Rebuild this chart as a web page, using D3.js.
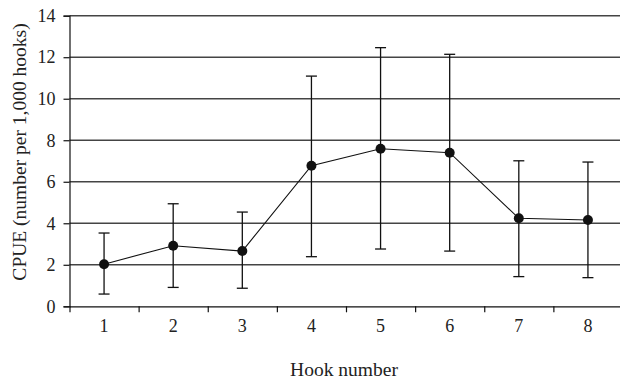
<!DOCTYPE html>
<html>
<head>
<meta charset="utf-8">
<script src="https://cdn.jsdelivr.net/npm/d3@7"></script>
<style>
    body { margin: 0; background: #fff; }
    svg text { font-family: "Liberation Serif", "Times New Roman", serif; fill: #222; }
</style>
</head>
<body>
<svg id="chart" width="620" height="380"></svg>
<script>
// CPUE by hook number, means with error bars
const hooks = [1, 2, 3, 4, 5, 6, 7, 8];
const cpue = [2.03, 2.92, 2.66, 6.77, 7.59, 7.40, 4.24, 4.16];
const lower = [0.59, 0.91, 0.87, 2.39, 2.76, 2.66, 1.43, 1.38];
const upper = [3.53, 4.94, 4.54, 11.09, 12.46, 12.14, 7.01, 6.95];
const yTicks = [0, 2, 4, 6, 8, 10, 12, 14];

const svg = d3.select("#chart");
const width = 620,
    height = 380;
const margin = {top: 15.7, right: -2.5, bottom: 73.7, left: 69.5};
const serif = '"Liberation Serif", "Times New Roman", serif';

const x = d3.scaleLinear()
    .domain([0.5, 8.5])
    .range([margin.left, width - margin.right]);

const y = d3.scaleLinear()
    .domain([0, 14])
    .range([height - margin.bottom, margin.top]);

const data = hooks.map((h, i) => ({hook: h, v: cpue[i], lo: lower[i], hi: upper[i]}));

// horizontal gridlines
svg.append("g")
    .attr("class", "grid")
    .selectAll("line")
    .data(yTicks.filter(t => t > 0))
    .enter().append("line")
    .attr("x1", margin.left)
    .attr("x2", width)
    .attr("y1", d => y(d))
    .attr("y2", d => y(d))
    .attr("stroke", "#444")
    .attr("stroke-width", 1.5);

// y axis
const yAxis = svg.append("g")
    .attr("transform", `translate(${margin.left},0)`)
    .call(d3.axisLeft(y).tickValues(yTicks).tickSize(6).tickPadding(8).tickFormat(d3.format("d")));
yAxis.attr("font-family", serif);
yAxis.select(".domain").attr("stroke", "#111").attr("stroke-width", 1.2);
yAxis.selectAll(".tick line").attr("stroke", "#111").attr("stroke-width", 1.2);
yAxis.selectAll("text").style("font-size", "18px").style("font-family", serif).attr("fill", "#222");

// x axis: ticks at category boundaries
const xAxis = svg.append("g")
    .attr("transform", `translate(0,${y(0)})`)
    .call(d3.axisBottom(x).tickValues(d3.range(0.5, 9, 1)).tickSize(6).tickSizeOuter(0).tickFormat(""));
xAxis.select(".domain").attr("stroke", "#111").attr("stroke-width", 1.2);
xAxis.selectAll(".tick line").attr("stroke", "#111").attr("stroke-width", 1.2);

// x labels centered on categories
svg.append("g")
    .selectAll("text")
    .data(hooks)
    .enter().append("text")
    .attr("x", d => x(d))
    .attr("y", y(0) + 26)
    .attr("text-anchor", "middle")
    .style("font-size", "18px")
    .style("font-family", serif)
    .text(d => d);

// error bars
const bars = svg.append("g").attr("class", "errbars")
    .attr("stroke", "#111")
    .attr("stroke-width", 1.3);

bars.selectAll("line.v")
    .data(data)
    .enter().append("line")
    .attr("class", "v")
    .attr("x1", d => x(d.hook))
    .attr("x2", d => x(d.hook))
    .attr("y1", d => y(d.lo))
    .attr("y2", d => y(d.hi));

bars.selectAll("line.top")
    .data(data)
    .enter().append("line")
    .attr("class", "top")
    .attr("x1", d => x(d.hook) - 5.5)
    .attr("x2", d => x(d.hook) + 5.5)
    .attr("y1", d => y(d.hi))
    .attr("y2", d => y(d.hi));

bars.selectAll("line.bot")
    .data(data)
    .enter().append("line")
    .attr("class", "bot")
    .attr("x1", d => x(d.hook) - 5.5)
    .attr("x2", d => x(d.hook) + 5.5)
    .attr("y1", d => y(d.lo))
    .attr("y2", d => y(d.lo));

// connecting line
const line = d3.line()
    .x(d => x(d.hook))
    .y(d => y(d.v));

svg.append("path")
    .datum(data)
    .attr("fill", "none")
    .attr("stroke", "#111")
    .attr("stroke-width", 1.1)
    .attr("d", line);

// points
svg.append("g")
    .selectAll("circle")
    .data(data)
    .enter().append("circle")
    .attr("cx", d => x(d.hook))
    .attr("cy", d => y(d.v))
    .attr("r", 5)
    .attr("fill", "#111");

// axis titles
svg.append("text")
    .attr("x", 344)
    .attr("y", 376)
    .attr("text-anchor", "middle")
    .style("font-size", "19.5px")
    .style("font-family", serif)
    .text("Hook number");

svg.append("text")
    .attr("transform", "translate(25.5,152) rotate(-90)")
    .attr("text-anchor", "middle")
    .style("font-size", "19.5px")
    .style("font-family", serif)
    .text("CPUE (number per 1,000 hooks)");
</script>
</body>
</html>
